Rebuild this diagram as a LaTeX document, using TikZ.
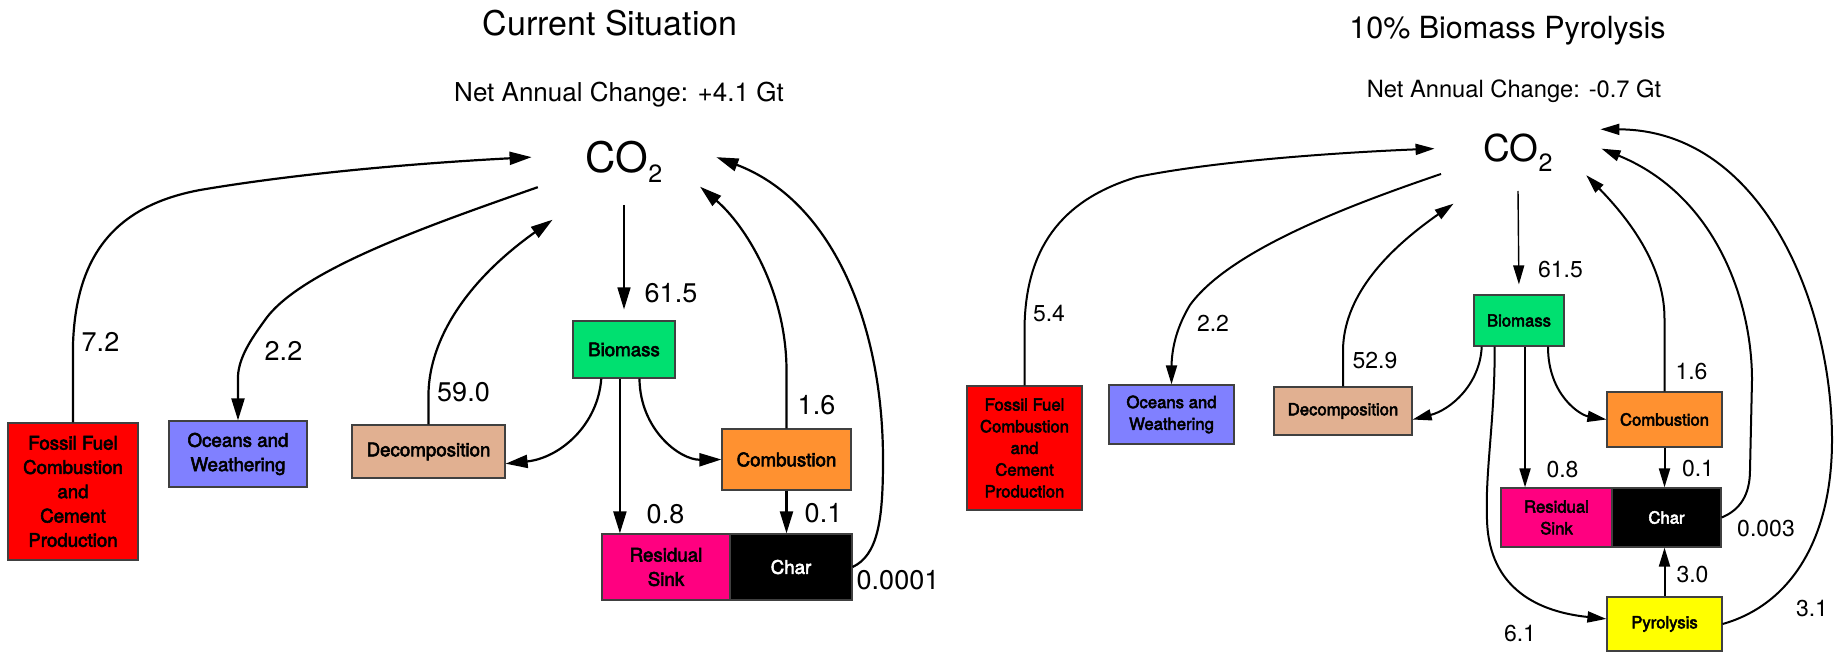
\documentclass[tikz,border=0pt]{standalone}
\usepackage{fontspec}
\setmainfont{TeX Gyre Heros}
\newfontfamily\boxfamily[FakeBold=3]{TeX Gyre Heros}
\usetikzlibrary{arrows.meta,shapes.geometric}

\definecolor{fossilred}{RGB}{255,0,0}
\definecolor{oceanblue}{RGB}{128,128,255}
\definecolor{decomptan}{RGB}{225,176,145}
\definecolor{biogreen}{RGB}{0,224,112}
\definecolor{comborange}{RGB}{255,145,48}
\definecolor{residpink}{RGB}{255,0,128}
\definecolor{pyroyellow}{RGB}{255,255,0}

\tikzset{
  box/.style={draw=black!75, line width=1.2pt, inner sep=0pt, align=center},
  boxL/.style={box, font=\boxfamily\fontsize{18.7}{24.3}\selectfont},
  boxR/.style={box, font=\boxfamily\fontsize{16.7}{21.7}\selectfont},
  co2/.style={ellipse, inner sep=0pt, outer sep=0pt},
  numL/.style={anchor=base, inner sep=0pt, font=\fontsize{27}{27}\selectfont},
  numR/.style={anchor=base, inner sep=0pt, font=\fontsize{23}{23}\selectfont},
  flowL/.style={line width=2.2pt, -{Triangle[length=22pt,width=13pt]}},
  flowR/.style={line width=2pt, -{Triangle[length=19pt,width=11pt]}}
}

\begin{document}
\begin{tikzpicture}[x=1pt,y=-1pt]
\useasboundingbox (0,0) rectangle (1839,652);

% current situation
\node[anchor=base, font=\fontsize{34}{34}\selectfont] (titleL) at (610,36) {Current Situation};
\node[anchor=base, font=\fontsize{26}{26}\selectfont] (netL) at (619,102) {Net Annual Change: +4.1 Gt};
\node[co2, minimum width=186pt, minimum height=86pt, font=\fontsize{42}{42}\selectfont] (co2L) at (624,162) {CO\raisebox{-10pt}{\fontsize{25}{25}\selectfont 2}};

\node[boxL, fill=fossilred, minimum width=130pt, minimum height=137pt] (fossilL) at (73,491.5) {Fossil Fuel\\Combustion\\and\\Cement\\Production};
\node[boxL, fill=oceanblue, minimum width=138pt, minimum height=66pt] (oceansL) at (238,454) {Oceans and\\Weathering};
\node[boxL, fill=decomptan, minimum width=153pt, minimum height=53pt] (decompL) at (428.5,451.5) {Decomposition};
\node[boxL, fill=biogreen, minimum width=102pt, minimum height=57pt] (biomassL) at (624,349.5) {Biomass};
\node[boxL, fill=comborange, minimum width=129pt, minimum height=61pt] (combL) at (786.5,459.5) {Combustion};
\node[boxL, fill=residpink, minimum width=128pt, minimum height=66pt] (residL) at (666,567) {Residual\\Sink};
\node[boxL, fill=black, text=white, minimum width=122pt, minimum height=66pt] (charL) at (791,567) {Char};

\draw[flowL] (fossilL.north) -- ++(0,-78) .. controls (76,250) and (120,205) .. (200,190) .. controls (300,173) and (420,163) .. (co2L.177);
\draw[flowL, shorten <=7.6pt] (co2L.196) .. controls (430,225) and (300,270) .. (265,320) .. controls (255,334) and (239,355) .. (238,376) -- (oceansL.north);
\draw[flowL, shorten >=34pt] (decompL.north) -- ++(0,-32) .. controls (430,340) and (465,282) .. (co2L.221);
\draw[flowL, line width=1.6pt, shorten >=11pt] (co2L.south) -- (biomassL.north);
\draw[flowL] (biomassL.232) .. controls (598,425) and (560,458) .. (decompL.-9);
\draw[flowL] (biomassL.262) -- (biomassL.262 |- residL.north);
\draw[flowL] (biomassL.298) .. controls (640,430) and (680,460) .. (combL.west);
\draw[flowL] (combL.north) -- ++(0,-59) .. controls (786,290) and (745,225) .. (co2L.342);
\draw[flowL] (combL.south) -- (combL.south |- charL.north);
\draw[flowL] (charL.east) .. controls (878,555) and (883,520) .. (883,460) .. controls (883,320) and (830,200) .. (co2L.3);

\node[numL] (vFossilL) at (100.5,351) {7.2};
\node[numL] (vOceansL) at (283.5,360) {2.2};
\node[numL] (vDecompL) at (463.5,401) {59.0};
\node[numL] (vBioL) at (671,303) {61.5};
\node[numL] (vCombL) at (816.5,414) {1.6};
\node[numL] (vResidL) at (665.5,523) {0.8};
\node[numL] (vCharL) at (823.5,522) {0.1};
\node[numL] (vStoreL) at (898,589) {0.0001};

% pyrolysis
\node[anchor=base, font=\fontsize{30.5}{30.5}\selectfont] (titleR) at (1507.5,39) {10\% Biomass Pyrolysis};
\node[anchor=base, font=\fontsize{23.7}{23.7}\selectfont] (netR) at (1514,98) {Net Annual Change: -0.7 Gt};
\node[co2, minimum width=168pt, minimum height=76pt, font=\fontsize{37}{37}\selectfont] (co2R) at (1518,153) {CO\raisebox{-10pt}{\fontsize{25}{25}\selectfont 2}};

\node[boxR, fill=fossilred, minimum width=115pt, minimum height=124pt] (fossilR) at (1024.5,448) {Fossil Fuel\\Combustion\\and\\Cement\\Production};
\node[boxR, fill=oceanblue, minimum width=125pt, minimum height=59pt] (oceansR) at (1171.5,414.5) {Oceans and\\Weathering};
\node[boxR, fill=decomptan, minimum width=138pt, minimum height=48pt] (decompR) at (1343,411) {Decomposition};
\node[boxR, fill=biogreen, minimum width=90pt, minimum height=51pt] (biomassR) at (1519,320.5) {Biomass};
\node[boxR, fill=comborange, minimum width=115pt, minimum height=55pt] (combR) at (1664.5,419.5) {Combustion};
\node[boxR, fill=residpink, minimum width=111pt, minimum height=59pt] (residR) at (1556.5,517.5) {Residual\\Sink};
\node[boxR, fill=black, text=white, minimum width=109pt, minimum height=59pt] (charR) at (1666.5,517.5) {Char};
\node[boxR, fill=pyroyellow, minimum width=115pt, minimum height=54pt] (pyroR) at (1664.5,624) {Pyrolysis};

\draw[flowR] (fossilR.north) -- ++(0,-56) .. controls (1025,250) and (1060,200) .. (1137,177) .. controls (1220,160) and (1350,152) .. (co2R.177);
\draw[flowR, shorten <=5pt] (co2R.195) .. controls (1350,205) and (1230,250) .. (1190,305) .. controls (1178,325) and (1172,345) .. (1171.5,366) -- (oceansR.north);
\draw[flowR, shorten >=30pt] (decompR.north) -- ++(0,-37) .. controls (1344,300) and (1380,255) .. (co2R.220);
\draw[flowR, line width=1.4pt, shorten >=10pt] (co2R.south) -- (biomassR.north);
\draw[flowR] (biomassR.215) .. controls (1480,385) and (1450,410) .. (decompR.-7);
\draw[flowR] (biomassR.227) .. controls (1495,420) and (1485,470) .. (1487,520) .. controls (1489,590) and (1540,612) .. (pyroR.175);
\draw[flowR] (biomassR.283) -- (biomassR.283 |- residR.north);
\draw[flowR] (biomassR.318) .. controls (1548,395) and (1580,415) .. (combR.west);
\draw[flowR] (combR.north) -- ++(0,-72) .. controls (1665,260) and (1620,210) .. (co2R.342);
\draw[flowR] (combR.south) -- (combR.south |- charR.north);
\draw[flowR] (charR.east) .. controls (1740,510) and (1750,495) .. (1750,470) -- (1752,380) .. controls (1752,300) and (1715,195) .. (co2R.3);
\draw[flowR] (pyroR.north) -- (pyroR.north |- charR.south);
\draw[flowR, shorten >=17pt] (pyroR.east) .. controls (1790,605) and (1832,540) .. (1832,440) .. controls (1832,300) and (1760,130) .. (co2R.20);

\node[numR] (vFossilR) at (1049,322) {5.4};
\node[numR] (vOceansR) at (1213,331) {2.2};
\node[numR] (vDecompR) at (1375,368) {52.9};
\node[numR] (vBioR) at (1560.5,278) {61.5};
\node[numR] (vCombR) at (1691.5,379) {1.6};
\node[numR] (vResidR) at (1562.5,477) {0.8};
\node[numR] (vCharR) at (1698,476) {0.1};
\node[numR] (vStoreR) at (1766,536) {0.003};
\node[numR] (vPyroCharR) at (1692.5,582) {3.0};
\node[numR] (vPyroR) at (1520,641) {6.1};
\node[numR] (vPyroAirR) at (1812,616) {3.1};
\end{tikzpicture}
\end{document}
